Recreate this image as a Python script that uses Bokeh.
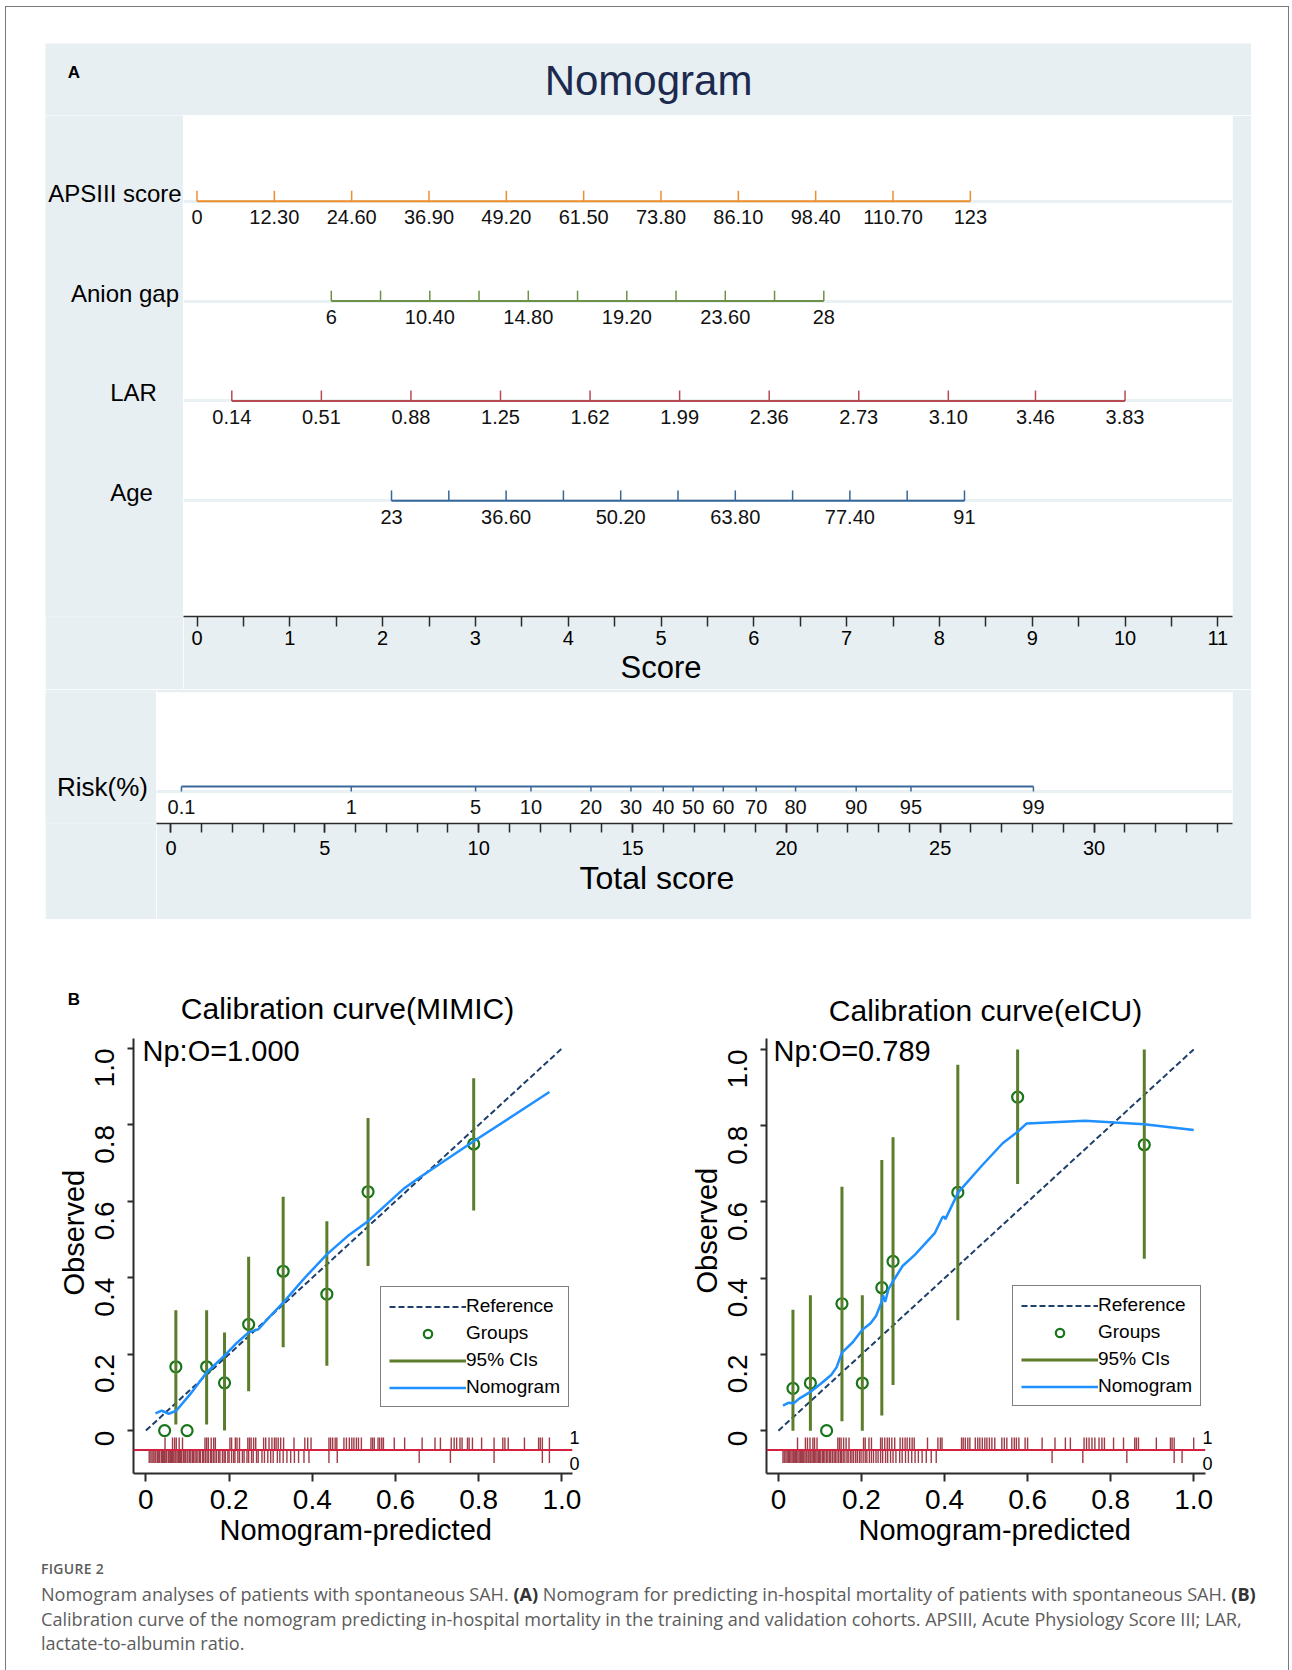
import math
import numpy as np
from bokeh.plotting import figure
from bokeh.models import (Label, Legend, LegendItem, LinearAxis, FixedTicker, Range1d,
                          Spacer, Div, Span, Title)
from bokeh.layouts import column, row
from bokeh.embed import file_html
from bokeh.resources import INLINE
from bokeh.core.properties import value

FONT = "Liberation Sans"
PANEL_BG = "#E8EFF2"
GRID_C = "#EAF1F4"
AX_C = "#2b2b2b"

# ---------------- Panel A : nomogram data ----------------
row_names = ["APSIII score", "Anion gap", "LAR", "Age"]
apsiii_vals = [0, 12.3, 24.6, 36.9, 49.2, 61.5, 73.8, 86.1, 98.4, 110.7, 123]
apsiii_text = ["0", "12.30", "24.60", "36.90", "49.20", "61.50", "73.80", "86.10", "98.40", "110.70", "123"]
anion_vals = [6, 8.2, 10.4, 12.6, 14.8, 17, 19.2, 21.4, 23.6, 25.8, 28]
anion_text = ["6", "", "10.40", "", "14.80", "", "19.20", "", "23.60", "", "28"]
lar_vals = [0.14, 0.51, 0.88, 1.25, 1.62, 1.99, 2.36, 2.73, 3.10, 3.46, 3.83]
lar_text = ["0.14", "0.51", "0.88", "1.25", "1.62", "1.99", "2.36", "2.73", "3.10", "3.46", "3.83"]
age_vals = [23, 29.8, 36.6, 43.4, 50.2, 57, 63.8, 70.6, 77.4, 84.2, 91]
age_text = ["23", "", "36.60", "", "50.20", "", "63.80", "", "77.40", "", "91"]
# Score-axis points reached by the lowest / highest value of each predictor
apsiii_score = [0.0, 8.333]
anion_score = [1.447, 6.754]
lar_score = [0.375, 10.0]
age_score = [2.096, 8.27]
score_ticks = [0, 1, 2, 3, 4, 5, 6, 7, 8, 9, 10, 11]

risk_text = ["0.1", "1", "5", "10", "20", "30", "40", "50", "60", "70", "80", "90", "95", "99"]
risk_total = [0.34, 5.86, 9.9, 11.7, 13.65, 14.95, 16.0, 16.97, 17.95, 19.02, 20.3, 22.27, 24.05, 28.03]
total_ticks = [0, 5, 10, 15, 20, 25, 30]

# ---------------- Panel B : calibration data ----------------
axis_ticks = [0, 0.2, 0.4, 0.6, 0.8, 1.0]
axis_tick_text = ["0", "0.2", "0.4", "0.6", "0.8", "1.0"]
ref_x = [0, 1]
ref_y = [0, 1]

mimic_gx = [0.045, 0.072, 0.099, 0.146, 0.189, 0.247, 0.330, 0.435, 0.534, 0.788]
mimic_gy = [0.0, 0.167, 0.0, 0.167, 0.125, 0.278, 0.417, 0.357, 0.625, 0.75]
mimic_lo = [np.nan, 0.016, np.nan, 0.016, 0.0, 0.103, 0.218, 0.170, 0.431, 0.576]
mimic_hi = [np.nan, 0.315, np.nan, 0.315, 0.257, 0.455, 0.612, 0.548, 0.818, 0.922]
mimic_cx = [0.023, 0.038, 0.047, 0.055, 0.073, 0.107, 0.146, 0.189, 0.219, 0.247, 0.270, 0.296,
            0.330, 0.382, 0.435, 0.485, 0.534, 0.622, 0.656, 0.788, 0.970]
mimic_cy = [0.045, 0.052, 0.048, 0.044, 0.052, 0.096, 0.152, 0.196, 0.230, 0.257, 0.265, 0.296,
            0.335, 0.400, 0.461, 0.509, 0.548, 0.635, 0.661, 0.757, 0.886]
mimic_rug1 = [0.046, 0.064, 0.069, 0.073, 0.080, 0.088, 0.142, 0.146, 0.150, 0.157, 0.163, 0.167,
              0.202, 0.206, 0.215, 0.219, 0.225, 0.245, 0.249, 0.253, 0.259, 0.264, 0.283, 0.288,
              0.296, 0.303, 0.309, 0.313, 0.318, 0.324, 0.331, 0.356, 0.382, 0.389, 0.397, 0.440,
              0.444, 0.449, 0.455, 0.459, 0.476, 0.482, 0.489, 0.495, 0.500, 0.506, 0.511, 0.518,
              0.541, 0.545, 0.549, 0.558, 0.562, 0.567, 0.571, 0.597, 0.622, 0.664, 0.695, 0.708,
              0.734, 0.741, 0.747, 0.755, 0.760, 0.773, 0.777, 0.785, 0.807, 0.837, 0.858, 0.863,
              0.871, 0.910, 0.944, 0.948, 0.953, 0.970]
mimic_rug0 = [0.008, 0.012, 0.015, 0.019, 0.022, 0.024, 0.028, 0.031, 0.033, 0.037, 0.040, 0.042,
              0.045, 0.048, 0.050, 0.054, 0.056, 0.059, 0.062, 0.064, 0.067, 0.070, 0.072, 0.075,
              0.078, 0.081, 0.083, 0.086, 0.090, 0.092, 0.095, 0.099, 0.101, 0.105, 0.108, 0.112,
              0.114, 0.118, 0.121, 0.125, 0.129, 0.131, 0.136, 0.139, 0.143, 0.147, 0.150, 0.155,
              0.158, 0.162, 0.166, 0.170, 0.175, 0.178, 0.184, 0.188, 0.191, 0.197, 0.200, 0.206,
              0.211, 0.214, 0.221, 0.225, 0.232, 0.236, 0.243, 0.247, 0.254, 0.258, 0.266, 0.270,
              0.279, 0.285, 0.293, 0.300, 0.306, 0.316, 0.322, 0.330, 0.339, 0.348, 0.357, 0.367,
              0.380, 0.392, 0.440, 0.460, 0.657, 0.732, 0.837, 0.953, 0.970]

eicu_gx = [0.035, 0.077, 0.116, 0.153, 0.202, 0.249, 0.276, 0.432, 0.576, 0.881]
eicu_gy = [0.111, 0.125, 0.0, 0.333, 0.125, 0.375, 0.444, 0.625, 0.875, 0.75]
eicu_lo = [0.0, 0.0, np.nan, 0.025, 0.0, 0.040, 0.120, 0.290, 0.647, 0.451]
eicu_hi = [0.317, 0.355, np.nan, 0.640, 0.355, 0.710, 0.770, 0.960, 1.0, 1.0]
eicu_cx = [0.011, 0.024, 0.037, 0.050, 0.076, 0.102, 0.127, 0.140, 0.153, 0.179, 0.202, 0.222,
           0.235, 0.248, 0.252, 0.257, 0.265, 0.276, 0.299, 0.329, 0.377, 0.394, 0.398, 0.402,
           0.433, 0.488, 0.540, 0.576, 0.598, 0.738, 0.881, 1.0]
eicu_cy = [0.066, 0.073, 0.072, 0.084, 0.101, 0.123, 0.146, 0.166, 0.205, 0.232, 0.265, 0.282,
           0.301, 0.336, 0.355, 0.338, 0.371, 0.392, 0.432, 0.462, 0.519, 0.558, 0.562, 0.555,
           0.625, 0.693, 0.754, 0.784, 0.806, 0.813, 0.804, 0.789]
eicu_rug1 = [0.046, 0.065, 0.070, 0.076, 0.083, 0.087, 0.093, 0.143, 0.147, 0.151, 0.157, 0.163,
             0.170, 0.205, 0.209, 0.218, 0.224, 0.246, 0.250, 0.256, 0.262, 0.267, 0.273, 0.280,
             0.293, 0.299, 0.305, 0.310, 0.316, 0.322, 0.327, 0.359, 0.384, 0.390, 0.394, 0.441,
             0.445, 0.450, 0.456, 0.461, 0.474, 0.480, 0.485, 0.491, 0.497, 0.502, 0.508, 0.514,
             0.521, 0.538, 0.544, 0.550, 0.562, 0.568, 0.573, 0.579, 0.594, 0.600, 0.635, 0.666,
             0.691, 0.703, 0.736, 0.742, 0.748, 0.755, 0.762, 0.772, 0.779, 0.785, 0.807, 0.831,
             0.858, 0.862, 0.867, 0.910, 0.944, 0.948, 0.953, 1.0]
eicu_rug0 = [0.011, 0.014, 0.018, 0.021, 0.024, 0.027, 0.030, 0.033, 0.036, 0.038, 0.041, 0.044,
             0.047, 0.050, 0.053, 0.055, 0.058, 0.061, 0.064, 0.067, 0.069, 0.073, 0.076, 0.078,
             0.081, 0.084, 0.087, 0.090, 0.093, 0.096, 0.099, 0.102, 0.106, 0.109, 0.112, 0.116,
             0.119, 0.123, 0.126, 0.130, 0.134, 0.137, 0.141, 0.145, 0.149, 0.152, 0.156, 0.160,
             0.165, 0.168, 0.173, 0.177, 0.181, 0.186, 0.190, 0.195, 0.199, 0.204, 0.209, 0.213,
             0.219, 0.224, 0.229, 0.235, 0.240, 0.246, 0.251, 0.258, 0.263, 0.270, 0.276, 0.283,
             0.292, 0.298, 0.306, 0.313, 0.321, 0.329, 0.337, 0.346, 0.356, 0.368, 0.380,
             0.659, 0.733, 0.839, 0.953, 0.972]


# ---------------- helpers ----------------
def to_points(vals, pts):
    v0, v1 = vals[0], vals[-1]
    return [pts[0] + (v - v0) / (v1 - v0) * (pts[1] - pts[0]) for v in vals]


def style_xaxis(ax, size, tick_out, standoff):
    ax.axis_line_color = AX_C
    ax.axis_line_width = 1.5
    ax.major_tick_line_color = AX_C
    ax.major_tick_line_width = 1.5
    ax.minor_tick_line_color = AX_C
    ax.minor_tick_line_width = 1.5
    ax.major_tick_in = 0
    ax.major_tick_out = tick_out
    ax.minor_tick_in = 0
    ax.minor_tick_out = tick_out
    ax.major_label_text_font = FONT
    ax.major_label_text_font_size = size
    ax.major_label_text_color = "black"
    ax.major_label_standoff = standoff


def text_fig(width, height, xr, yr, bg, top=0, bottom=0):
    f = figure(width=width, height=height, x_range=xr, y_range=yr, output_backend="svg",
               toolbar_location=None, x_axis_location=None, y_axis_location=None,
               min_border_left=0, min_border_right=0, min_border_top=top, min_border_bottom=bottom,
               background_fill_color=bg, border_fill_color=bg, outline_line_color=None)
    f.grid.visible = False
    return f


def put_text(f, x, y, txt, size, color="black", style="normal", align="center", angle=0.0):
    f.text(x=[x], y=[y], text=[txt], text_font=value(FONT), text_font_size=size,
           text_color=color, text_font_style=style, text_align=align, text_baseline="middle",
           angle=angle)


def add_title(p, side, txt, size, offset, standoff=0):
    p.add_layout(Title(text=txt, align="left", offset=offset, standoff=standoff,
                       text_font=FONT, text_font_size=size, text_font_style="normal",
                       text_color="black"), side)


# ---------------- Panel A header ----------------
H = text_fig(1206, 72, Range1d(45, 1251), Range1d(115, 43), PANEL_BG)
put_text(H, 73.5, 72, "A", "17px", style="bold")
put_text(H, 648, 80, "Nomogram", "42px", color="#1B2A4E")

# ---------------- Figure 1: nomogram ----------------
y1_range = Range1d(-0.1585, 4.858)
p1 = figure(width=1068, height=574, x_range=Range1d(-0.1455, 11.158), y_range=y1_range,
            output_backend="svg", toolbar_location=None, y_axis_location=None,
            min_border_left=0, min_border_right=19, min_border_top=0, min_border_bottom=73,
            background_fill_color="white", border_fill_color=PANEL_BG, outline_line_color=None)
p1.grid.visible = False
L1 = text_fig(138, 574, Range1d(45, 183), y1_range, PANEL_BG, top=0, bottom=73)

row_vals = [apsiii_vals, anion_vals, lar_vals, age_vals]
row_texts = [apsiii_text, anion_text, lar_text, age_text]
row_scores = [apsiii_score, anion_score, lar_score, age_score]
row_colors = ["#EE8F2D", "#6D9146", "#B64A53", "#36679A"]
row_label_x = [114.5, 124.5, 133, 131]
row_y = [len(row_names) - i for i in range(len(row_names))]

p1.hspan(y=row_y, line_color=GRID_C, line_width=3)
for i, name in enumerate(row_names):
    y = row_y[i]
    pts = to_points(row_vals[i], row_scores[i])
    c = row_colors[i]
    p1.segment(x0=[pts[0]], y0=[y], x1=[pts[-1]], y1=[y], line_color=c, line_width=2)
    p1.segment(x0=pts, y0=[y] * len(pts), x1=pts, y1=[y + 0.104] * len(pts), line_color=c, line_width=1.5)
    p1.text(x=pts, y=[y - 0.163] * len(pts), text=row_texts[i], text_font=value(FONT),
            text_font_size="20px", text_align="center", text_baseline="middle", text_color="#111111")
    put_text(L1, row_label_x[i], y + 0.08, name, "24px")

p1.xaxis.ticker = FixedTicker(ticks=score_ticks, minor_ticks=[t + 0.5 for t in score_ticks[:-1]])
style_xaxis(p1.xaxis[0], "20px", 10, 4)
add_title(p1, "below", "Score", "31px", 437)

# ---------------- Figure 2: risk ----------------
y2_range = Range1d(-0.37, 0.94)
p2 = figure(width=1095, height=230, x_range=Range1d(-0.471, 34.5), y_range=y2_range,
            output_backend="svg", toolbar_location=None, y_axis_location=None,
            min_border_left=0, min_border_right=19, min_border_top=3, min_border_bottom=96,
            background_fill_color="white", border_fill_color=PANEL_BG, outline_line_color=None)
p2.grid.visible = False
L2 = text_fig(111, 230, Range1d(45, 156), y2_range, PANEL_BG, top=3, bottom=96)
p2.hspan(y=[-0.05], line_color=GRID_C, line_width=3)
risk_c = "#3A6897"
p2.segment(x0=[risk_total[0]], y0=[0], x1=[risk_total[-1]], y1=[0], line_color=risk_c, line_width=2)
p2.segment(x0=risk_total, y0=[0] * len(risk_total), x1=risk_total, y1=[-0.05] * len(risk_total),
           line_color=risk_c, line_width=1.5)
p2.text(x=risk_total, y=[-0.207] * len(risk_total), text=risk_text, text_font=value(FONT),
        text_font_size="20px", text_align="center", text_baseline="middle", text_color="#111111")
put_text(L2, 102, 0.0, "Risk(%)", "26px")
p2.xaxis.ticker = FixedTicker(ticks=total_ticks, minor_ticks=list(range(0, 35)))
style_xaxis(p2.xaxis[0], "20px", 9, 8)
add_title(p2, "below", "Total score", "32px", 423)

# ---------------- Panel B header ----------------
HB = text_fig(1206, 111, Range1d(45, 1251), Range1d(1030, 919), "white")
put_text(HB, 73.5, 999, "B", "17px", style="bold")
put_text(HB, 347, 1007.5, "Calibration curve(MIMIC)", "30px")
put_text(HB, 985, 1010, "Calibration curve(eICU)", "30px")

# ---------------- Figures 3 & 4: calibration ----------------
RUG_Y, RUG_TOP, RUG_BOT = -0.0505, -0.018, -0.085


def calib(width, left, right, top, bottom, xr, yr, npo, npo_x, obs_off, xt_off,
          gx, gy, lo, hi, cx, cy, rug1, rug0, leg_loc):
    p = figure(width=width, height=520, x_range=Range1d(*xr), y_range=Range1d(*yr),
               output_backend="svg", toolbar_location=None,
               min_border_left=left, min_border_right=right, min_border_top=top, min_border_bottom=bottom,
               background_fill_color="white", border_fill_color="white", outline_line_color=None)
    p.grid.visible = False
    overrides = {t: s for t, s in zip(axis_ticks, axis_tick_text)}
    for ax in (p.xaxis[0], p.yaxis[0]):
        ax.ticker = FixedTicker(ticks=axis_ticks)
        ax.major_label_overrides = overrides
        ax.axis_line_color = AX_C
        ax.axis_line_width = 2
        ax.major_tick_line_color = AX_C
        ax.major_tick_line_width = 2
        ax.major_tick_in = 0
        ax.minor_tick_line_color = None
        ax.major_label_text_font = FONT
        ax.major_label_text_font_size = "28px"
        ax.major_label_text_color = "black"
    p.xaxis.major_tick_out = 8
    p.xaxis.major_label_standoff = 8
    p.yaxis.major_tick_out = 6
    p.yaxis.major_label_standoff = 23
    p.yaxis.major_label_orientation = math.pi / 2

    # rug of outcomes
    p.segment(x0=rug1, y0=[RUG_Y] * len(rug1), x1=rug1, y1=[RUG_TOP] * len(rug1),
              line_color="#9E3B47", line_width=1.4)
    p.segment(x0=rug0, y0=[RUG_Y] * len(rug0), x1=rug0, y1=[RUG_BOT] * len(rug0),
              line_color="#9E3B47", line_width=1.4)
    p.add_layout(Span(location=RUG_Y, dimension="width", line_color="#D41F3F", line_width=2))
    rax = LinearAxis(ticker=FixedTicker(ticks=[RUG_TOP, RUG_BOT]),
                     major_label_overrides={RUG_TOP: "1", RUG_BOT: "0"},
                     axis_line_color=None, major_tick_line_color=None, minor_tick_line_color=None,
                     major_tick_out=0, major_tick_in=0, minor_tick_out=0, minor_tick_in=0,
                     major_label_standoff=-3, major_label_text_font=FONT,
                     major_label_text_font_size="18px", major_label_text_color="black")
    p.add_layout(rax, "right")

    r_ref = p.line(ref_x, ref_y, line_color="#1F3F6B", line_width=2, line_dash="6 3")
    r_grp = p.scatter(gx, gy, marker="circle", size=11, fill_color=None, line_color="#17761A",
                      line_width=2.2)
    r_ci = p.segment(x0=gx, y0=np.array(lo), x1=gx, y1=np.array(hi), line_color="#5B7D2C", line_width=3)
    r_nom = p.line(cx, cy, line_color="#1E90FF", line_width=2.5)

    leg = Legend(items=[LegendItem(label="Reference", renderers=[r_ref]),
                        LegendItem(label="Groups", renderers=[r_grp]),
                        LegendItem(label="95% CIs", renderers=[r_ci]),
                        LegendItem(label="Nomogram", renderers=[r_nom])],
                 location=leg_loc, orientation="vertical",
                 label_text_font=FONT, label_text_font_size="19px", label_text_color="black",
                 glyph_width=77, glyph_height=21, label_height=21, label_standoff=0,
                 spacing=5, padding=8, margin=0,
                 border_line_color="black", border_line_width=1.5, background_fill_color="white")
    p.add_layout(leg)

    p.add_layout(Label(x=npo_x, y=423, x_units="screen", y_units="screen", text=npo,
                       text_font=FONT, text_font_size="29px", text_color="black",
                       text_align="left", text_baseline="middle"))
    add_title(p, "left", "Observed", "29px", obs_off, standoff=-14)
    add_title(p, "below", "Nomogram-predicted", "29px", xt_off)
    return p


p3 = calib(605, 88, 78, 7, 77, (-0.0298, 1.0255), (-0.1123, 1.0261),
           "Np:O=1.000", 9, 178, 86,
           mimic_gx, mimic_gy, mimic_lo, mimic_hi, mimic_cx, mimic_cy, mimic_rug1, mimic_rug0,
           (247, 66))
p4 = calib(601, 116, 46, 8, 75, (-0.0287, 1.0284), (-0.1123, 1.0287),
           "Np:O=0.789", 7, 180, 92,
           eicu_gx, eicu_gy, eicu_lo, eicu_hi, eicu_cx, eicu_cy, eicu_rug1, eicu_rug0,
           (246, 67))

# ---------------- caption ----------------
caption_html = (
    '<div style="font-family:\'Open Sans\',sans-serif;color:#5c5c5c;">'
    '<div style="font-size:14px;font-weight:600;letter-spacing:0.3px;line-height:20px;margin-top:4px;">FIGURE 2</div>'
    '<div style="font-size:18.1px;line-height:24.5px;margin-top:3px;white-space:nowrap;">'
    'Nomogram analyses of patients with spontaneous SAH. <b style="color:#333">(A)</b> Nomogram for predicting '
    'in-hospital mortality of patients with spontaneous SAH. <b style="color:#333">(B)</b><br>'
    'Calibration curve of the nomogram predicting in-hospital mortality in the training and validation '
    'cohorts. APSIII, Acute Physiology Score III; LAR,<br>lactate-to-albumin ratio.</div></div>'
)
caption = Div(text=caption_html, width=1240, height=112)

panelA = column(H, row(L1, p1, spacing=0), row(L2, p2, spacing=0), spacing=0)
panelB = column(HB, row(p3, p4, spacing=0), spacing=0)
rowA = row(Spacer(width=39, height=876), panelA, spacing=0)
rowB = row(Spacer(width=39, height=631), panelB, spacing=0)
rowC = row(Spacer(width=30, height=112), caption, spacing=0)
root = column(Spacer(width=1282, height=36), rowA, rowB, rowC, spacing=0,
              styles={"border-top": "1px solid #7a7a7a", "border-left": "1px solid #7a7a7a",
                      "border-right": "1px solid #7a7a7a", "margin-left": "5px", "margin-top": "6px"})

open("out.html", "w").write(file_html(root, INLINE))
